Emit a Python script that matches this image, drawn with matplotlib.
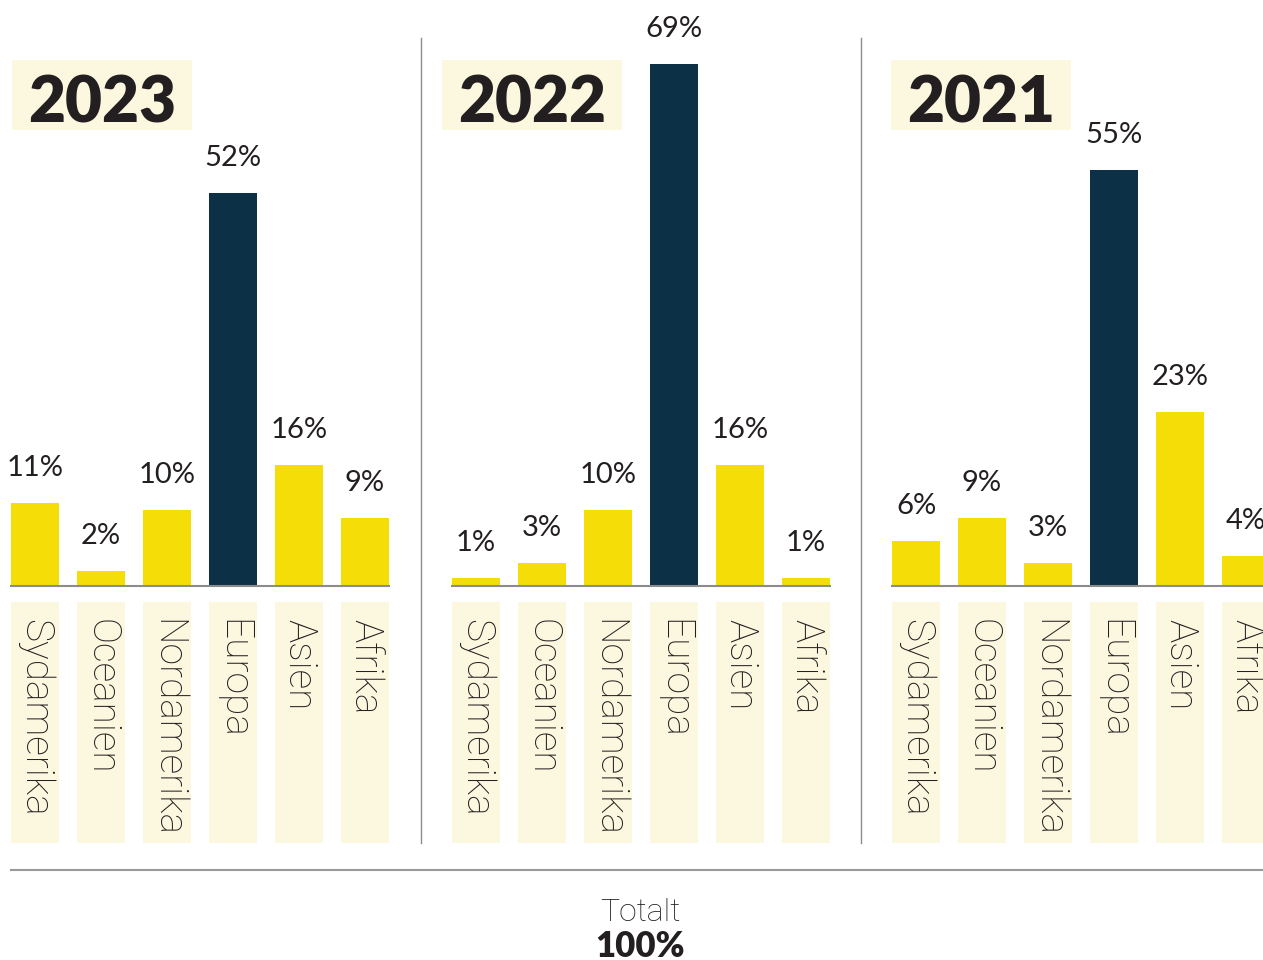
import matplotlib
matplotlib.use("Agg")
import matplotlib.pyplot as plt
from matplotlib.patches import Rectangle

plt.rcParams['font.family'] = ['Lato', 'DejaVu Sans']
LIGHT = ['Roboto', 'DejaVu Sans']

# data
years = ["2023", "2022", "2021"]
regions = ["Sydamerika", "Oceanien", "Nordamerika", "Europa", "Asien", "Afrika"]
share_2023 = [11, 2, 10, 52, 16, 9]
share_2022 = [1, 3, 10, 69, 16, 1]
share_2021 = [6, 9, 3, 55, 23, 4]
shares = [share_2023, share_2022, share_2021]
highlight = "Europa"

YELLOW = "#F5DE08"
NAVY = "#0C3147"
PALE = "#FCF7DF"
INK = "#231F20"
GRAY = "#8C8C8C"

W, H = 1263, 960
PX_PER_PCT = 7.56
BASE_PX = 586

def py(p):
    # pixel row (from top) -> data y (percent)
    return (BASE_PX - p) / PX_PER_PCT

fig = plt.figure(figsize=(W / 100, H / 100), dpi=100)
ax = fig.add_axes([0, 0, 1, 1])
ax.set_xlim(0, W)
ax.set_ylim(py(H), py(0))
ax.axis("off")

panel_left = [11, 452, 892]
year_left = [28, 458, 907]
pitch, bw = 66, 48

year_texts = []
for k, (year, vals) in enumerate(zip(years, shares)):
    x0 = panel_left[k]
    xs = [x0 + bw / 2 + i * pitch for i in range(len(regions))]
    colors = [NAVY if r == highlight else YELLOW for r in regions]
    ax.bar(xs, vals, width=bw, color=colors, zorder=2)
    ax.plot([x0, xs[-1] + bw / 2], [0, 0], color=GRAY, lw=1.5, zorder=3)

    for x, v in zip(xs, vals):
        ax.text(x, v + 27 / PX_PER_PCT, f"{v}%", ha="center", va="baseline",
                fontsize=21, color=INK)

    # category label boxes
    ax.bar(xs, [py(602) - py(843)] * len(xs), bottom=py(843), width=bw,
           color=PALE, zorder=1)
    for x, r in zip(xs, regions):
        ax.text(x, py(619), r, rotation=-90, ha="center", va="top",
                fontsize=28, fontweight="light", family=LIGHT, color=INK)

    # year badge
    t = ax.text(year_left[k], py(123), year, ha="left", va="baseline",
                fontsize=46, fontweight="heavy", color=INK, zorder=2)
    year_texts.append(t)

fig.canvas.draw()
inv = ax.transData.inverted()
for t in year_texts:
    bb = t.get_window_extent()
    (xl, _), (xr, _) = inv.transform([[bb.x0, 0], [bb.x1, 0]])
    ax.add_patch(Rectangle((xl - 16, py(130)), (xr - xl) + 32, py(60) - py(130),
                           facecolor=PALE, edgecolor="none", zorder=1))

# dividers
for xd in [421, 861]:
    ax.plot([xd, xd], [py(38), py(843)], color=GRAY, lw=1)
ax.plot([11, W], [py(870), py(870)], color="#999999", lw=1.5)

ax.text(640, py(921), "Totalt", ha="center", va="baseline",
        fontsize=23, fontweight="light", family=LIGHT, color=INK)
ax.text(640, py(957), "100%", ha="center", va="baseline",
        fontsize=25, fontweight="heavy", color=INK)

fig.savefig("out.png", dpi=100)
